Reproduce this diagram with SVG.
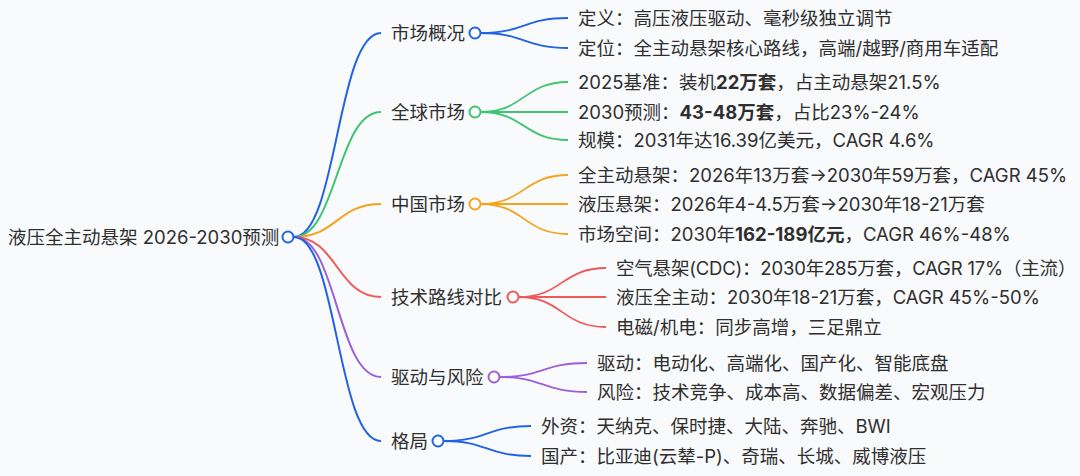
<svg xmlns="http://www.w3.org/2000/svg" width="1080" height="476" viewBox="0 0 1080 476">
<style>
text{font-family:Inter,"Noto Sans CJK SC",sans-serif;font-size:18.5px;fill:#2f2f2f;dominant-baseline:central}
.b{font-weight:bold}
.l1{fill:none;stroke-width:2}
.l2{fill:none;stroke-width:1.8}
.dot{fill:#ffffff;stroke-width:2}
.blue{stroke:#2063e6}.green{stroke:#3fc56f}.orange{stroke:#f5a31c}.red{stroke:#ee5a5a}.purple{stroke:#9d5fda}
</style>
<rect width="1080" height="476" fill="#f9fafc"/>
<g id="connectors">
<path class="l1 blue" d="M294,237 C337,237 337,33 381,33"/>
<path class="l1 green" d="M294,237 C337,237 337,112 381,112"/>
<path class="l1 orange" d="M294,237 C337,237 337,204 381,204"/>
<path class="l1 red" d="M294,237 C337,237 337,297 381,297"/>
<path class="l1 purple" d="M294,237 C337,237 337,377 381,377"/>
<path class="l1 blue" d="M294,237 C337,237 337,441 381,441"/>
<path class="l2 blue" d="M481,33 C524,33 524,18 568,18"/>
<path class="l2 blue" d="M481,33 C524,33 524,48 568,48"/>
<path class="l2 green" d="M481,112 C524,112 524,82 568,82"/>
<path class="l2 green" d="M481,112 C524,112 524,112 568,112"/>
<path class="l2 green" d="M481,112 C524,112 524,140 568,140"/>
<path class="l2 orange" d="M481,204 C524,204 524,175 568,175"/>
<path class="l2 orange" d="M481,204 C524,204 524,204 568,204"/>
<path class="l2 orange" d="M481,204 C524,204 524,234 568,234"/>
<path class="l2 red" d="M519,297 C562,297 562,268 606,268"/>
<path class="l2 red" d="M519,297 C562,297 562,297 606,297"/>
<path class="l2 red" d="M519,297 C562,297 562,327 606,327"/>
<path class="l2 purple" d="M500,377 C543,377 543,363 587,363"/>
<path class="l2 purple" d="M500,377 C543,377 543,392 587,392"/>
<path class="l2 blue" d="M444,441 C487,441 487,426 531,426"/>
<path class="l2 blue" d="M444,441 C487,441 487,456 531,456"/>
</g>
<g id="root">
<text x="8" y="237">液压全主动悬架 2026-2030预测</text>
<circle class="dot blue" cx="288" cy="237" r="5.5"/>
</g>
<g id="n1">
<text x="391" y="33">市场概况</text>
<circle class="dot blue" cx="475" cy="33" r="5.5"/>
</g>
<g id="n1a"><text x="578" y="18">定义：高压液压驱动、毫秒级独立调节</text></g>
<g id="n1b"><text x="578" y="48">定位：全主动悬架核心路线，高端/越野/商用车适配</text></g>
<g id="n2">
<text x="391" y="112">全球市场</text>
<circle class="dot green" cx="475" cy="112" r="5.5"/>
</g>
<g id="n2a"><text x="578" y="82">2025基准：装机<tspan class="b">22万套</tspan>，占主动悬架21.5%</text></g>
<g id="n2b"><text x="578" y="112">2030预测：<tspan class="b">43-48万套</tspan>，占比23%-24%</text></g>
<g id="n2c"><text x="578" y="140">规模：2031年达16.39亿美元，CAGR 4.6%</text></g>
<g id="n3">
<text x="391" y="204">中国市场</text>
<circle class="dot orange" cx="475" cy="204" r="5.5"/>
</g>
<g id="n3a"><text x="578" y="175">全主动悬架：2026年13万套→2030年59万套，CAGR 45%</text></g>
<g id="n3b"><text x="578" y="204">液压悬架：2026年4-4.5万套→2030年18-21万套</text></g>
<g id="n3c"><text x="578" y="234">市场空间：2030年<tspan class="b">162-189亿元</tspan>，CAGR 46%-48%</text></g>
<g id="n4">
<text x="391" y="297">技术路线对比</text>
<circle class="dot red" cx="513" cy="297" r="5.5"/>
</g>
<g id="n4a"><text x="616" y="268" letter-spacing="-0.2">空气悬架(CDC)：2030年285万套，CAGR 17%（主流）</text></g>
<g id="n4b"><text x="616" y="297">液压全主动：2030年18-21万套，CAGR 45%-50%</text></g>
<g id="n4c"><text x="616" y="327">电磁/机电：同步高增，三足鼎立</text></g>
<g id="n5">
<text x="391" y="377">驱动与风险</text>
<circle class="dot purple" cx="494" cy="377" r="5.5"/>
</g>
<g id="n5a"><text x="597" y="363">驱动：电动化、高端化、国产化、智能底盘</text></g>
<g id="n5b"><text x="597" y="392">风险：技术竞争、成本高、数据偏差、宏观压力</text></g>
<g id="n6">
<text x="391" y="441">格局</text>
<circle class="dot blue" cx="438" cy="441" r="5.5"/>
</g>
<g id="n6a"><text x="541" y="426">外资：天纳克、保时捷、大陆、奔驰、BWI</text></g>
<g id="n6b"><text x="541" y="456">国产：比亚迪(云辇-P)、奇瑞、长城、威博液压</text></g>
</svg>
